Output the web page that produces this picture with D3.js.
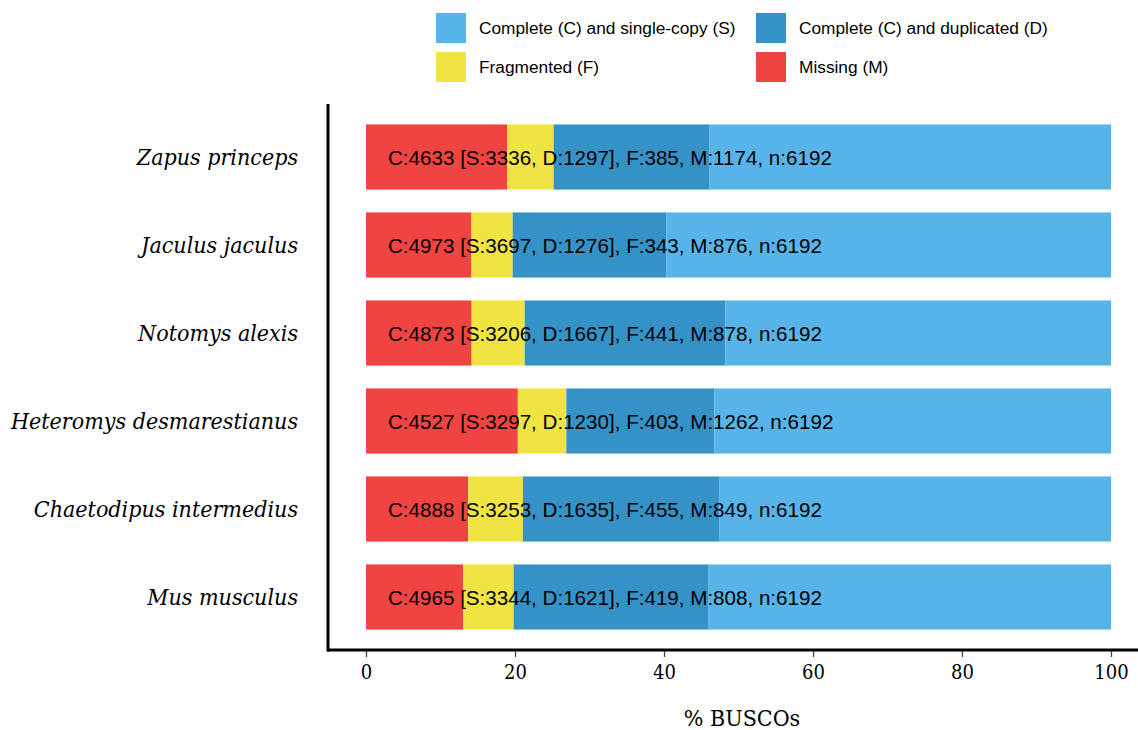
<!DOCTYPE html>
<html><head><meta charset="utf-8">
<script src="https://cdn.jsdelivr.net/npm/d3@7"></script>
<style>body{margin:0;background:#fff}</style>
</head><body>
<script>
const species = ["Zapus princeps","Jaculus jaculus","Notomys alexis","Heteromys desmarestianus","Chaetodipus intermedius","Mus musculus"];
const completeC = [4633,4973,4873,4527,4888,4965];
const singleS = [3336,3697,3206,3297,3253,3344];
const duplicatedD = [1297,1276,1667,1230,1635,1621];
const fragmentedF = [385,343,441,403,455,419];
const missingM = [1174,876,878,1262,849,808];
const totalN = [6192,6192,6192,6192,6192,6192];
const xTicks = [0,20,40,60,80,100];
const legendLabels = ["Complete (C) and single-copy (S)","Complete (C) and duplicated (D)","Fragmented (F)","Missing (M)"];

const W=1138,H=730;
const svg=d3.select("body").append("svg").attr("width",W).attr("height",H);
const x=d3.scaleLinear().domain([0,100]).range([366,1111]);
const y=d3.scaleBand().domain(species).range([113,641]).paddingInner(0.26).paddingOuter(0.13);
const colors={M:"#F04442",F:"#F0E442",D:"#3492C7",S:"#56B4E9"};
const order=["M","F","D","S"];
const rows=species.map((s,i)=>({s,M:missingM[i],F:fragmentedF[i],D:duplicatedD[i],S:singleS[i],n:totalN[i],C:completeC[i]}));
rows.forEach(r=>{let acc=0;r.segs=order.map(k=>{const v=r[k]/r.n*100;const seg={k,x0:acc,x1:acc+v};acc+=v;return seg;});});

const serif="DejaVu Serif Condensed, DejaVu Serif, serif";
const g=svg.append("g");
rows.forEach(r=>{
  g.selectAll(null).data(r.segs).enter().append("rect")
   .attr("x",d=>x(d.x0)).attr("width",d=>x(d.x1)-x(d.x0))
   .attr("y",y(r.s)).attr("height",y.bandwidth()).attr("fill",d=>colors[d.k]);
  g.append("text").attr("x",388).attr("y",y(r.s)+y.bandwidth()/2).attr("dy","0.38em")
   .attr("font-family","Liberation Sans, Arial, sans-serif").attr("font-size",20.6).attr("fill","#000")
   .text(`C:${r.C} [S:${r.S}, D:${r.D}], F:${r.F}, M:${r.M}, n:${r.n}`);
});

// y labels
svg.selectAll(".yl").data(species).enter().append("text")
 .attr("x",298).attr("y",d=>y(d)+y.bandwidth()/2).attr("dy","0.34em").attr("text-anchor","end")
 .attr("font-family",serif).attr("font-style","italic").attr("font-size",23)
 .text(d=>d);

// axes
const xAxis=svg.append("g").attr("transform","translate(0,650)")
 .call(d3.axisBottom(x).tickValues(xTicks).tickSize(7).tickPadding(8));
xAxis.select(".domain").remove();
xAxis.selectAll(".tick line").attr("stroke","#444").attr("stroke-width",1.3);
xAxis.selectAll(".tick text").attr("font-family",serif).attr("font-size",20).attr("fill","#000");
svg.append("line").attr("x1",327).attr("x2",W).attr("y1",650).attr("y2",650).attr("stroke","#000").attr("stroke-width",3);
svg.append("line").attr("x1",328).attr("x2",328).attr("y1",104).attr("y2",651.5).attr("stroke","#000").attr("stroke-width",3);
svg.append("text").attr("x",742).attr("y",726).attr("text-anchor","middle")
 .attr("font-family",serif).attr("font-size",23).text("% BUSCOs");

// legend
const legItems=[{l:legendLabels[0],c:colors.S,x:436,y:13},{l:legendLabels[1],c:colors.D,x:756,y:13},
 {l:legendLabels[2],c:colors.F,x:436,y:52},{l:legendLabels[3],c:colors.M,x:756,y:52}];
const lg=svg.selectAll(".lg").data(legItems).enter().append("g");
lg.append("rect").attr("x",d=>d.x).attr("y",d=>d.y).attr("width",30).attr("height",30).attr("fill",d=>d.c);
lg.append("text").attr("x",d=>d.x+43).attr("y",d=>d.y+15).attr("dy","0.36em")
 .attr("font-family","Liberation Sans, Arial, sans-serif").attr("font-size",17.3).text(d=>d.l);
</script>
</body></html>
